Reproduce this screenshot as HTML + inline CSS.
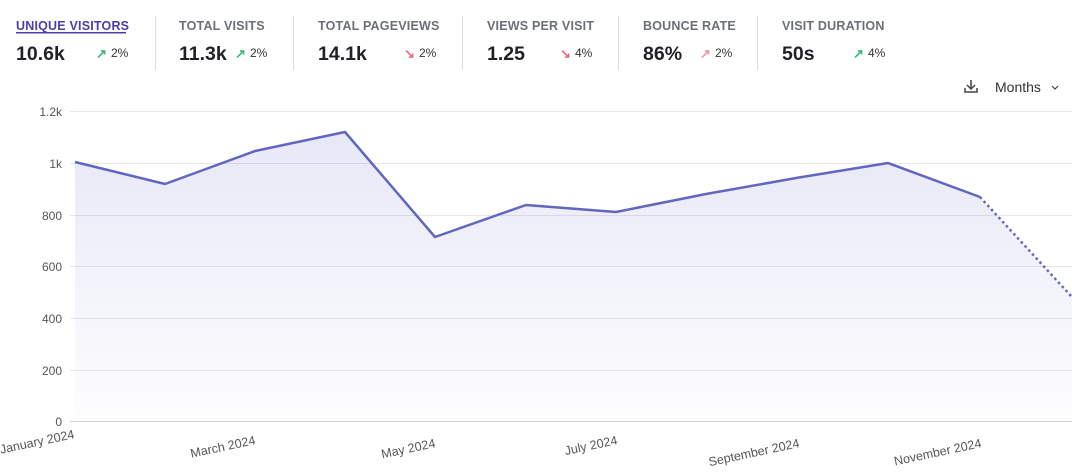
<!DOCTYPE html>
<html><head><meta charset="utf-8"><style>
body{margin:0;width:1072px;height:470px;background:#fff;overflow:hidden;font-family:"Liberation Sans",sans-serif}
svg text{font-family:"Liberation Sans",sans-serif}
</style></head><body>
<svg width="1072" height="470" xmlns="http://www.w3.org/2000/svg">
<defs><linearGradient id="g" x1="0" y1="0" x2="0" y2="1"><stop offset="0" stop-color="#6366c8" stop-opacity="0.15"/><stop offset="1" stop-color="#6366c8" stop-opacity="0.01"/></linearGradient></defs>
<g font-size="12.5" font-weight="bold" fill="#6b6f76" letter-spacing="0.2">
<text x="16" y="30" fill="#4b3fa8">UNIQUE VISITORS</text>
<text x="179" y="30">TOTAL VISITS</text>
<text x="318" y="30">TOTAL PAGEVIEWS</text>
<text x="487" y="30">VIEWS PER VISIT</text>
<text x="643" y="30">BOUNCE RATE</text>
<text x="782" y="30">VISIT DURATION</text>
</g>
<rect x="16" y="32" width="110" height="1.5" fill="#4b3fa8"/>
<g font-size="19.5" font-weight="bold" fill="#1f2126">
<text x="16" y="60">10.6k</text><text x="179" y="60">11.3k</text><text x="318" y="60">14.1k</text>
<text x="487" y="60">1.25</text><text x="643" y="60">86%</text><text x="782" y="60">50s</text>
</g>
<g font-size="12" fill="#333">
<text x="111" y="57">2%</text><text x="250" y="57">2%</text><text x="419" y="57">2%</text>
<text x="575" y="57">4%</text><text x="715" y="57">2%</text><text x="868" y="57">4%</text>
</g>
<g font-size="13" font-weight="bold">
<text x="96" y="58" fill="#3cb77a">↗</text><text x="235" y="58" fill="#3cb77a">↗</text>
<text x="404" y="58" fill="#e86a7e">↘</text><text x="560" y="58" fill="#e86a7e">↘</text>
<text x="700" y="58" fill="#e89aa8">↗</text><text x="853" y="58" fill="#3cb77a">↗</text>
</g>
<g fill="#dcdde0"><rect x="155" y="16" width="1" height="54"/><rect x="293" y="16" width="1" height="54"/><rect x="462" y="16" width="1" height="54"/><rect x="618" y="16" width="1" height="54"/><rect x="757" y="16" width="1" height="54"/></g>
<g stroke="#444" stroke-width="1.5" fill="none"><path d="M971 80v9M967 85l4 4 4-4M965 88v4h12v-4"/><path d="M1052 86l3 3 3-3" stroke-width="1.2"/></g>
<text x="995" y="92" font-size="14" fill="#333">Months</text>
<g stroke="#e6e7ea" stroke-width="1">
<line x1="70" y1="111.5" x2="1072" y2="111.5"/><line x1="70" y1="163.5" x2="1072" y2="163.5"/><line x1="70" y1="215.5" x2="1072" y2="215.5"/>
<line x1="70" y1="266.5" x2="1072" y2="266.5"/><line x1="70" y1="318.5" x2="1072" y2="318.5"/><line x1="70" y1="370.5" x2="1072" y2="370.5"/>
</g>
<line x1="70" y1="421.5" x2="1072" y2="421.5" stroke="#cfd0d4"/>
<g font-size="12" fill="#555" text-anchor="end">
<text x="62" y="116">1.2k</text><text x="62" y="168">1k</text><text x="62" y="220">800</text><text x="62" y="271">600</text>
<text x="62" y="323">400</text><text x="62" y="375">200</text><text x="62" y="426">0</text>
</g>
<path d="M75 162L165 184L255 151L345 132L435 237L526 205L616 212L706 194L796 178L888 163L980 197L1072 297L1072 421L75 421Z" fill="url(#g)"/>
<polyline points="75,162 165,184 255,151 345,132 435,237 526,205 616,212 706,194 796,178 888,163 980,197" fill="none" stroke="#6366c0" stroke-width="2.5" stroke-linejoin="round"/>
<line x1="980" y1="197" x2="1072" y2="297" stroke="#6366c0" stroke-width="2.5" stroke-dasharray="2.5 3"/>
<g font-size="12.5" fill="#555" text-anchor="end">
<text transform="translate(75,438) rotate(-12)">January 2024</text>
<text transform="translate(256,444) rotate(-12)">March 2024</text>
<text transform="translate(436,447) rotate(-12)">May 2024</text>
<text transform="translate(618,444) rotate(-12)">July 2024</text>
<text transform="translate(800,447) rotate(-12)">September 2024</text>
<text transform="translate(982,447) rotate(-12)">November 2024</text>
</g>
</svg>
</body></html>
